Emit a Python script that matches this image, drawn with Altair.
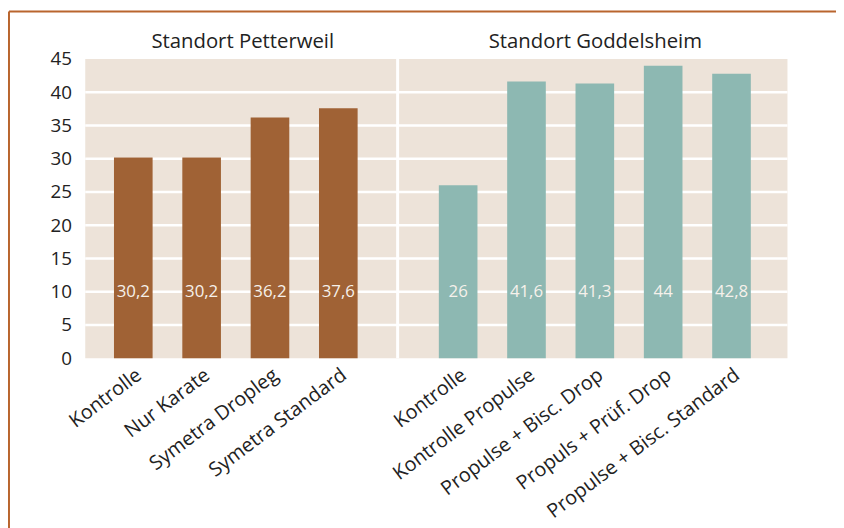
import altair as alt
import pandas as pd

# ---- data ----
left_cats = ["Kontrolle", "Nur Karate", "Symetra Dropleg", "Symetra Standard"]
left_vals = [30.2, 30.2, 36.2, 37.6]
right_cats = ["Kontrolle", "Kontrolle Propulse", "Propulse + Bisc. Drop",
              "Propuls + Prüf. Drop", "Propulse + Bisc. Standard"]
right_vals = [26, 41.6, 41.3, 44, 42.8]
panel_titles = ["Standort Petterweil", "Standort Goddelsheim"]
y_ticks = [0, 5, 10, 15, 20, 25, 30, 35, 40, 45]
grid_vals = [5, 10, 15, 20, 25, 30, 35, 40]
label_pos = 10  # value labels drawn at y = 10


def fmt(v):
    return ("%g" % v).replace(".", ",")


left_df = pd.DataFrame({"cat": left_cats, "val": left_vals,
                        "lab": [fmt(v) for v in left_vals], "lp": label_pos})
right_df = pd.DataFrame({"cat": right_cats, "val": right_vals,
                         "lab": [fmt(v) for v in right_vals], "lp": label_pos})

FONT = "Open Sans"
BROWN = "#A06235"
TEAL = "#8DB8B2"
BEIGE = "#EDE3D9"
BORDER = "#B9652E"
TXT = "#222222"
W, H = 709, 302
SEP = 315.4          # white divider between the two panels
PAD_L, PAD_T = 78, 49
SVG_W, SVG_H = 836, 520

yscale = alt.Scale(domain=[0, 45], nice=False)
yax = alt.Axis(values=y_ticks, labelFontSize=19, labelColor=TXT, labelFont=FONT,
               ticks=False, domain=False, labelOverlap=False, labelPadding=14,
               grid=False, title=None)

grid = alt.Chart(pd.DataFrame({"g": grid_vals})).mark_rule(
    color="white", strokeWidth=2.5).encode(
    y=alt.Y("g:Q", scale=yscale, axis=yax), x=alt.value(0), x2=alt.value(W))


def group(df, cats, color, rng):
    xs = alt.Scale(paddingInner=0.4348, paddingOuter=0, range=rng)
    X = alt.X("cat:N", sort=cats, scale=xs, axis=None)
    base = alt.Chart(df)
    bars = base.mark_bar(color=color).encode(
        x=X, y=alt.Y("val:Q", scale=yscale, axis=yax))
    vals = base.mark_text(color="#F6F1EB", fontSize=17, font=FONT,
                          baseline="middle").encode(
        x=X, y=alt.Y("lp:Q", scale=yscale, axis=yax), text="lab:N")
    xl = base.mark_text(angle=323, align="right", baseline="top", fontSize=20,
                        font=FONT, color=TXT).encode(
        x=X, y=alt.value(H + 7), text="cat:N")
    return alt.layer(bars, vals, xl)


left = group(left_df, left_cats, BROWN, [29, 275])
right = group(right_df, right_cats, TEAL, [357, 672])

tdf = pd.DataFrame({"t": panel_titles, "cx": [159, 515]})
titles = alt.Chart(tdf).mark_text(fontSize=20.5, font=FONT, color=TXT,
                                  baseline="alphabetic", align="center").encode(
    x=alt.X("cx:Q", scale=alt.Scale(domain=[0, W], range=[0, W]), axis=None),
    y=alt.value(-11), text="t:N")

one = pd.DataFrame({"k": [0]})
divider = alt.Chart(one).mark_rule(color="white", strokeWidth=3).encode(
    x=alt.value(SEP), y=alt.value(0), y2=alt.value(H))
frame_v = alt.Chart(one).mark_rule(color=BORDER, strokeWidth=2).encode(
    x=alt.value(-PAD_L + 1), y=alt.value(-PAD_T + 1), y2=alt.value(SVG_H))
frame_h = alt.Chart(one).mark_rule(color=BORDER, strokeWidth=2).encode(
    x=alt.value(-PAD_L + 1), x2=alt.value(SVG_W), y=alt.value(-PAD_T + 1))

chart = alt.layer(grid, divider, left, right, titles, frame_v, frame_h).resolve_scale(
    x="independent", y="shared"
).properties(
    width=W, height=H, background="white",
    autosize=alt.AutoSizeParams(type="none"),
    padding={"left": PAD_L, "top": PAD_T, "right": SVG_W - PAD_L - W,
             "bottom": SVG_H - PAD_T - H},
).configure_view(fill=BEIGE, stroke=None)

chart.save("out.html", embed_options={"renderer": "svg", "actions": False})
